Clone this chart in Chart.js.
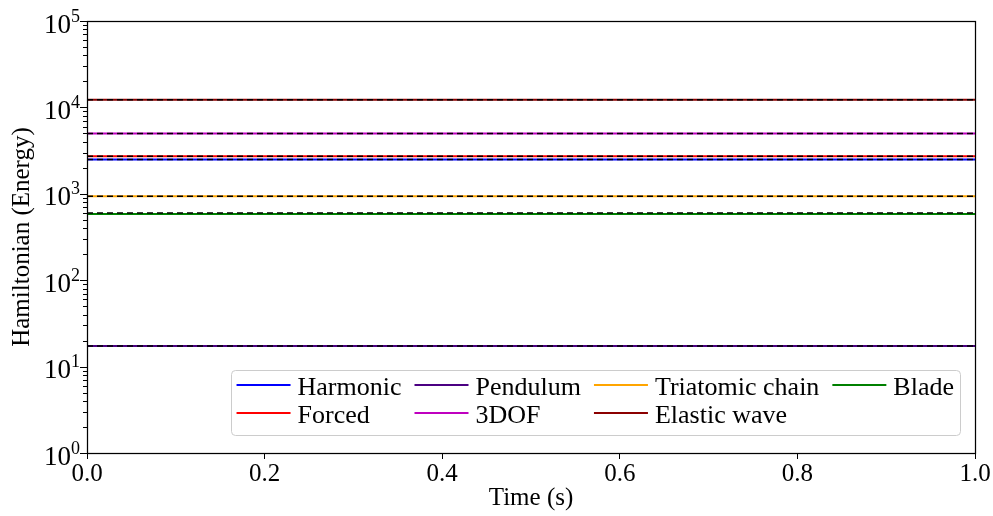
<!DOCTYPE html>
<html>
<head>
<meta charset="utf-8">
<title>Hamiltonian energy</title>
<script src="https://cdn.jsdelivr.net/npm/chart.js@4/dist/chart.umd.min.js"></script>
<style>
  html, body { margin: 0; padding: 0; background: #fff; }
  #wrap { width: 993px; height: 516px; }
</style>
</head>
<body>
<div id="wrap"><canvas id="energyChart" width="993" height="516"></canvas></div>
<script>
/* ---------- data ---------- */
const timeSec = [0, 1];

const hHarmonic  = [2490, 2490];
const hForced    = [2720, 2720];
const hPendulum  = [17.3, 17.3];
const h3DOF      = [4980, 4980];
const hTriatomic = [935, 935];
const hElastic   = [12300, 12300];
const hBlade     = [584, 584];

// dashed black reference level for each system (same order as systemNames)
const refLevels = [2490, 2720, 17.3, 4980, 935, 12300, 600];

const systemNames  = ['Harmonic', 'Forced', 'Pendulum', '3DOF', 'Triatomic chain', 'Elastic wave', 'Blade'];
const systemSeries = [hHarmonic, hForced, hPendulum, h3DOF, hTriatomic, hElastic, hBlade];
const systemColors = ['#0000ff', '#ff0000', '#4b0082', '#bf00bf', '#ffa500', '#8b0000', '#008000'];

const yTickExps = [0, 1, 2, 3, 4, 5];

/* ---------- helpers ---------- */
const SERIF = '"Liberation Serif", "Times New Roman", serif';

function toPoints(xs, ys) {
  return xs.map((x, i) => ({ x, y: ys[i] }));
}

const datasets = [];
systemNames.forEach((name, i) => {
  datasets.push({
    label: name,
    data: toPoints(timeSec, systemSeries[i]),
    borderColor: systemColors[i],
    borderWidth: 2,
    pointRadius: 0,
    order: 2,
  });
});
systemNames.forEach((name, i) => {
  datasets.push({
    label: name + ' ref',
    isRef: true,
    data: toPoints(timeSec, timeSec.map(() => refLevels[i])),
    borderColor: '#000',
    borderWidth: 1.5,
    borderDash: [6, 4],
    pointRadius: 0,
    order: 1,
  });
});

/* ---------- frame, log ticks and legend ---------- */
const decorPlugin = {
  id: 'decor',
  afterDraw(chart) {
    const { ctx, chartArea: a, scales: { y } } = chart;
    ctx.save();

    // y tick marks: majors at decades, minors at 2..9
    ctx.strokeStyle = '#000';
    ctx.lineWidth = 1;
    const lo = yTickExps[0], hi = yTickExps[yTickExps.length - 1];
    for (let e = lo; e <= hi; e++) {
      for (let k = 1; k <= (e === hi ? 1 : 9); k++) {
        const py = Math.round(y.getPixelForValue(k * Math.pow(10, e))) + 0.5;
        ctx.beginPath();
        ctx.moveTo(a.left, py);
        ctx.lineTo(a.left - (k === 1 ? 7 : 4), py);
        ctx.stroke();
      }
    }

    // y tick labels as 10^n
    ctx.fillStyle = '#000';
    ctx.textBaseline = 'alphabetic';
    ctx.textAlign = 'right';
    yTickExps.forEach(e => {
      const py = y.getPixelForValue(Math.pow(10, e));
      const right = a.left - 7;
      ctx.font = '18px ' + SERIF;
      const sup = String(e);
      const supW = ctx.measureText(sup).width;
      ctx.fillText(sup, right, py + 0.5);
      ctx.font = '27px ' + SERIF;
      ctx.fillText('10', right - supW, py + 11.5);
    });

    // plot frame
    ctx.lineWidth = 1.25;
    ctx.strokeRect(Math.round(a.left) + 0.5, Math.round(a.top) + 0.5,
                   Math.round(a.right - a.left), Math.round(a.bottom - a.top));

    // legend: 4 columns, filled column by column, lower right
    const items = chart.data.datasets.filter(d => !d.isRef);
    const nCols = 4, nRows = 2;
    const handle = 54, textGap = 7, colGap = 13, padX = 6, rowH = 28;
    ctx.font = '26px ' + SERIF;
    const colW = [];
    for (let c = 0; c < nCols; c++) {
      let w = 0;
      for (let r = 0; r < nRows; r++) {
        const it = items[c * nRows + r];
        if (it) w = Math.max(w, ctx.measureText(it.label).width);
      }
      colW.push(w);
    }
    const boxW = padX * 2 + colW.reduce((s, w) => s + handle + textGap + w, 0) + colGap * (nCols - 1);
    const boxH = 65;
    const bx = a.right - 15 - boxW;
    const by = a.bottom - 18 - boxH;

    ctx.fillStyle = 'rgba(255,255,255,0.85)';
    ctx.strokeStyle = '#cccccc';
    ctx.lineWidth = 1;
    ctx.beginPath();
    ctx.roundRect(Math.round(bx) + 0.5, Math.round(by) + 0.5, Math.round(boxW), boxH, 4);
    ctx.fill();
    ctx.stroke();

    ctx.textAlign = 'left';
    let cx = bx + padX;
    for (let c = 0; c < nCols; c++) {
      for (let r = 0; r < nRows; r++) {
        const it = items[c * nRows + r];
        if (!it) continue;
        const ry = by + 15 + r * rowH;
        ctx.strokeStyle = it.borderColor;
        ctx.lineWidth = 2;
        ctx.beginPath();
        ctx.moveTo(cx, ry);
        ctx.lineTo(cx + handle, ry);
        ctx.stroke();
        ctx.fillStyle = '#000';
        ctx.fillText(it.label, cx + handle + textGap, ry + 9.5);
      }
      cx += handle + textGap + colW[c] + colGap;
    }

    ctx.restore();
  }
};

/* ---------- chart ---------- */
new Chart(document.getElementById('energyChart'), {
  type: 'line',
  data: { datasets },
  plugins: [decorPlugin],
  options: {
    responsive: false,
    animation: false,
    layout: { padding: { top: 21, right: 18, left: 0, bottom: 0 } },
    plugins: {
      legend: { display: false },
      tooltip: { enabled: false },
    },
    scales: {
      x: {
        type: 'linear',
        min: 0,
        max: 1,
        border: { display: false },
        grid: { drawOnChartArea: false, drawTicks: true, tickLength: 6, tickColor: '#000', tickWidth: 1 },
        ticks: {
          stepSize: 0.2,
          color: '#000',
          padding: 0,
          maxRotation: 0,
          font: { family: SERIF, size: 25 },
          callback: v => v.toFixed(1),
        },
        title: {
          display: true,
          text: 'Time (s)',
          color: '#000',
          font: { family: SERIF, size: 25 },
          padding: { top: 0, bottom: 3 },
        },
        afterFit: s => { s.height = 63; },
      },
      y: {
        type: 'logarithmic',
        min: Math.pow(10, yTickExps[0]),
        max: Math.pow(10, yTickExps[yTickExps.length - 1]),
        border: { display: false },
        grid: { display: false },
        ticks: { display: false },
        title: {
          display: true,
          text: 'Hamiltonian (Energy)',
          color: '#000',
          font: { family: SERIF, size: 25 },
          padding: { top: 7, bottom: 0 },
        },
        afterFit: s => { s.width = 87; },
      },
    },
  },
});
</script>
</body>
</html>
